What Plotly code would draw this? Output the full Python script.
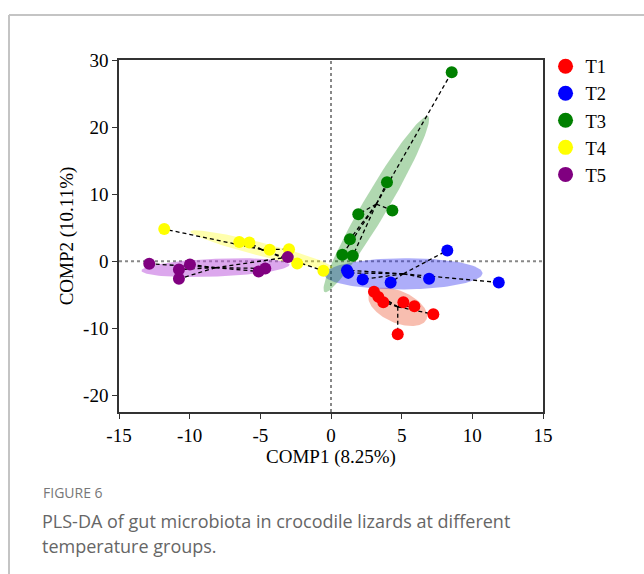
import numpy as np
import plotly.graph_objects as go

groups = ["T1", "T2", "T3", "T4", "T5"]
colors = ["#FF0000", "#0000FF", "#008000", "#FFFF00", "#800080"]
fills = ["rgba(240,110,80,0.45)", "rgba(40,40,240,0.38)", "rgba(0,128,0,0.31)",
         "rgba(255,255,0,0.32)", "rgba(185,80,220,0.5)"]

t1_x = [3.04, 3.35, 3.70, 5.12, 5.90, 7.24, 4.72]
t1_y = [-4.58, -5.33, -6.12, -6.12, -6.72, -7.91, -10.9]
t2_x = [1.22, 1.13, 2.24, 4.22, 6.94, 8.23, 11.87]
t2_y = [-1.75, -1.34, -2.73, -3.18, -2.64, 1.60, -3.18]
t3_x = [8.54, 3.96, 4.34, 1.93, 1.34, 0.80, 1.54]
t3_y = [28.16, 11.75, 7.57, 7.01, 3.28, 0.94, 0.79]
t4_x = [-11.80, -6.49, -5.78, -4.34, -2.97, -2.39, -0.54]
t4_y = [4.78, 2.84, 2.79, 1.69, 1.79, -0.34, -1.45]
t5_x = [-12.86, -10.76, -10.76, -9.98, -5.12, -4.65, -3.06]
t5_y = [-0.40, -1.24, -2.64, -0.49, -1.54, -1.09, 0.60]

xs = [t1_x, t2_x, t3_x, t4_x, t5_x]
ys = [t1_y, t2_y, t3_y, t4_y, t5_y]

x_ticks = [-15, -10, -5, 0, 5, 10, 15]
y_ticks = [-20, -10, 0, 10, 20, 30]

ELLIPSE_K = 1.38

fig = go.Figure()

# ellipses
for g, x, y, fc in zip(groups, xs, ys, fills):
    pts = np.column_stack([x, y])
    c = pts.mean(axis=0)
    cov = np.cov(pts.T)
    vals, vecs = np.linalg.eigh(cov)
    t = np.linspace(0, 2 * np.pi, 120)
    circ = np.vstack([np.cos(t), np.sin(t)])
    ell = vecs @ (np.sqrt(vals)[:, None] * circ) * ELLIPSE_K
    fig.add_trace(go.Scatter(x=ell[0] + c[0], y=ell[1] + c[1], mode="lines",
                             fill="toself", fillcolor=fc, line=dict(width=0),
                             hoverinfo="skip", showlegend=False))

# dashed star lines
for g, x, y in zip(groups, xs, ys):
    cx, cy = float(np.mean(x)), float(np.mean(y))
    lx, ly = [], []
    for xi, yi in zip(x, y):
        lx += [cx, xi, None]
        ly += [cy, yi, None]
    fig.add_trace(go.Scatter(x=lx, y=ly, mode="lines",
                             line=dict(color="black", width=1.3, dash="4px,3px"),
                             hoverinfo="skip", showlegend=False))

# points
for g, x, y, col in zip(groups, xs, ys, colors):
    fig.add_trace(go.Scatter(x=x, y=y, mode="markers", name=g, legendgroup=g,
                             showlegend=False,
                             marker=dict(color=col, size=12, line=dict(width=0))))

# legend entries (larger symbols, as in the reference)
for g, col in zip(groups, colors):
    fig.add_trace(go.Scatter(x=[None], y=[None], mode="markers", name=g, legendgroup=g,
                             marker=dict(color=col, size=15, line=dict(width=0))))

serif = "Liberation Serif, Times New Roman, serif"
sans = "Open Sans, sans-serif"

fig.update_layout(
    width=644, height=574,
    margin=dict(l=119, r=101, t=60, b=162),
    paper_bgcolor="white", plot_bgcolor="white",
    font=dict(family=serif, size=19, color="black"),
    showlegend=True,
    legend=dict(x=1.006, y=1.035, xanchor="left", yanchor="top",
                font=dict(family=serif, size=18.5, color="black"),
                itemwidth=30, tracegroupgap=0, bgcolor="rgba(0,0,0,0)"),
    xaxis=dict(range=[-15, 15], tickvals=x_ticks, ticktext=[str(v) for v in x_ticks],
               showgrid=False, zeroline=False, showline=True, linecolor="#333",
               linewidth=1.5, mirror=True, ticks="outside", ticklen=5, tickcolor="#333",
               title=dict(text="COMP1 (8.25%)", standoff=1, font=dict(size=19))),
    yaxis=dict(range=[-22.5, 30], tickvals=y_ticks, ticktext=[str(v) for v in y_ticks],
               showgrid=False, zeroline=False, showline=True, linecolor="#333",
               linewidth=1.5, mirror=True, ticks="outside", ticklen=5, tickcolor="#333",
               title=dict(text="COMP2 (10.11%)", standoff=4, font=dict(size=19))),
    shapes=[
        dict(type="line", xref="x", yref="paper", x0=0, x1=0, y0=0, y1=1,
             line=dict(color="#888", width=2, dash="dot"), layer="below"),
        dict(type="line", xref="paper", yref="y", x0=0, x1=1, y0=0, y1=0,
             line=dict(color="#888", width=2, dash="dot"), layer="below"),
        # card border (left and top)
        dict(type="line", xref="paper", yref="paper", x0=-0.2594, x1=-0.2594,
             y0=1.1278, y1=-0.47, line=dict(color="#C4C4C4", width=2)),
        dict(type="line", xref="paper", yref="paper", x0=-0.2594, x1=1.25,
             y0=1.1278, y1=1.1278, line=dict(color="#C4C4C4", width=2)),
    ],
    annotations=[
        dict(text="FIGURE 6", xref="paper", yref="paper", x=(41 - 119) / 424,
             y=(412 - 493) / 352, xanchor="left", yanchor="middle", showarrow=False,
             font=dict(family=sans, size=14, color="#777")),
        dict(text="PLS-DA of gut microbiota in crocodile lizards at different",
             xref="paper", yref="paper", x=(40 - 119) / 424, y=(412 - 521) / 352,
             xanchor="left", yanchor="middle", align="left", showarrow=False,
             font=dict(family=sans, size=18, color="#666")),
        dict(text="temperature groups.",
             xref="paper", yref="paper", x=(40 - 119) / 424, y=(412 - 546) / 352,
             xanchor="left", yanchor="middle", align="left", showarrow=False,
             font=dict(family=sans, size=18, color="#666")),
    ],
)

fig.write_html("out.html")
